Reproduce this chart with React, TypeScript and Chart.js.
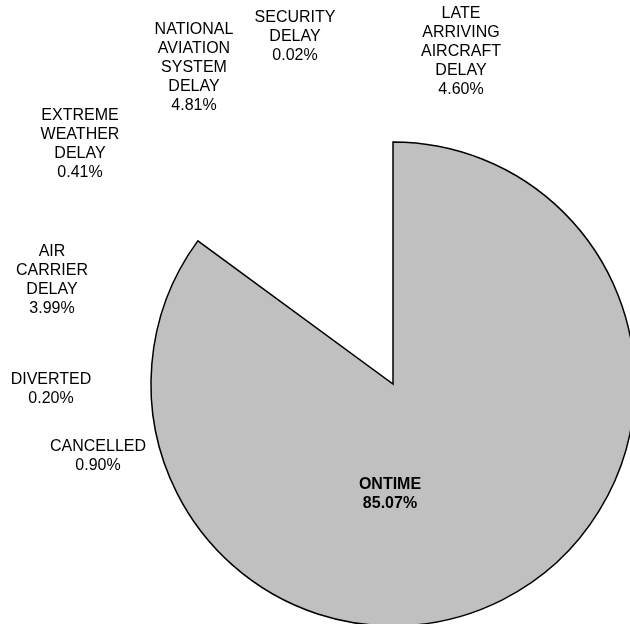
import React, { useEffect, useRef } from "react";
import { Chart, registerables } from "chart.js";

Chart.register(...registerables);

const categories = [
  "ONTIME",
  "CANCELLED",
  "DIVERTED",
  "AIR CARRIER DELAY",
  "EXTREME WEATHER DELAY",
  "NATIONAL AVIATION SYSTEM DELAY",
  "SECURITY DELAY",
  "LATE ARRIVING AIRCRAFT DELAY",
];
const shares = [85.07, 0.9, 0.2, 3.99, 0.41, 4.81, 0.02, 4.6];

// layout of the hand-placed labels (centre x, first-line centre y)
const labelX = [390, 98, 51, 52, 80, 194, 295, 461];
const labelY = [485, 447, 380, 252, 116, 30, 18, 14];

const FONT = '"Liberation Sans", Arial, sans-serif';
const LINE_H = 19;

const labelPlugin = {
  id: "manualLabels",
  afterDraw(chart: any) {
    const ctx = chart.ctx;
    ctx.save();
    ctx.fillStyle = "#000";
    ctx.textAlign = "center";
    ctx.textBaseline = "middle";
    categories.forEach((name, i) => {
      const lines = name.split(" ");
      lines.push(shares[i].toFixed(2) + "%");
      ctx.font = (i === 0 ? "bold " : "") + "16px " + FONT;
      lines.forEach((t, k) => {
        ctx.fillText(t, labelX[i], labelY[i] + k * LINE_H);
      });
    });
    ctx.restore();
  },
};

export default function App() {
  const ref = useRef<HTMLCanvasElement>(null);
  useEffect(() => {
    if (!ref.current) return;
    const chart = new Chart(ref.current, {
      type: "pie",
      data: {
        labels: categories,
        datasets: [
          {
            data: shares,
            backgroundColor: categories.map((_, i) => (i === 0 ? "#c0c0c0" : "rgba(0,0,0,0)")),
            borderColor: categories.map((_, i) => (i === 0 ? "#000000" : "rgba(0,0,0,0)")),
            borderWidth: categories.map((_, i) => (i === 0 ? 1.5 : 0)),
            borderJoinStyle: "miter",
            borderAlign: "center",
            hoverOffset: 0,
          } as any,
        ],
      },
      options: {
        animation: false,
        responsive: false,
        devicePixelRatio: 1,
        radius: 242,
        layout: { padding: { left: 146, top: 128, right: 0, bottom: 0 } },
        plugins: { legend: { display: false }, tooltip: { enabled: false } },
        events: [],
      } as any,
      plugins: [labelPlugin],
    });
    return () => chart.destroy();
  }, []);
  return (
    <div
      style={{
        position: "fixed",
        left: 0,
        top: 0,
        width: 630,
        height: 624,
        overflow: "hidden",
        background: "#fff",
      }}
    >
      <canvas ref={ref} width={640} height={640} style={{ display: "block", width: 640, height: 640 }} />
    </div>
  );
}
